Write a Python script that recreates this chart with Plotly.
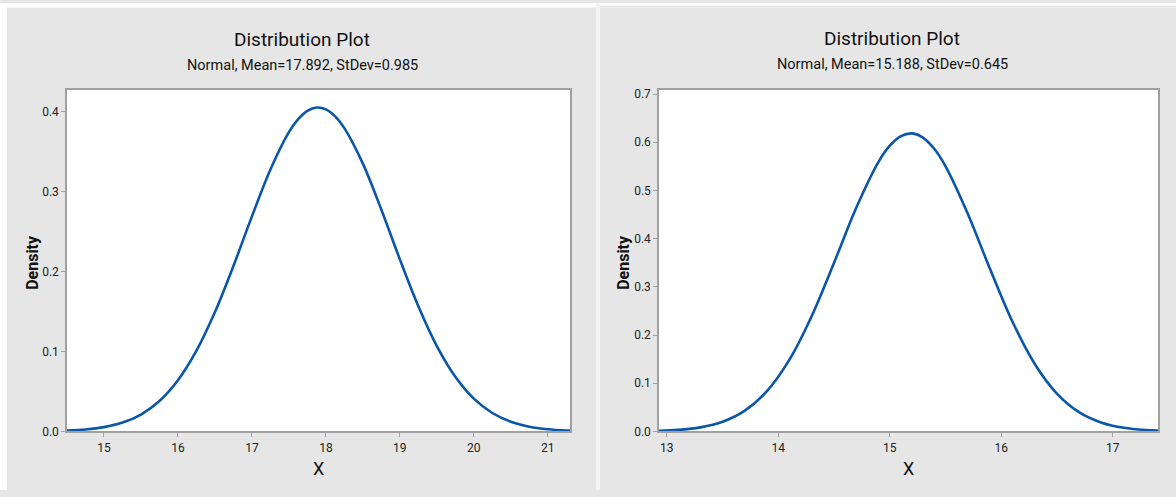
import plotly.graph_objects as go

# Left panel: Normal, Mean=17.892, StDev=0.985
x_left = [14.5, 14.75, 15.0, 15.25, 15.5, 15.75, 16.0, 16.25, 16.5, 16.75, 17.0, 17.25, 17.5, 17.625, 17.75,
          17.875, 18.0, 18.125, 18.25, 18.5, 18.75, 19.0, 19.25, 19.5, 19.75, 20.0, 20.25, 20.5, 20.75, 21.0,
          21.25, 21.5]
dens_left = [0.0011, 0.0025, 0.0054, 0.0111, 0.0212, 0.0381, 0.0640, 0.1009, 0.1492, 0.2068, 0.2688, 0.3275,
             0.3742, 0.3904, 0.4008, 0.4049, 0.4026, 0.3938, 0.3791, 0.3347, 0.2771, 0.2151, 0.1566, 0.1068,
             0.0684, 0.0410, 0.0231, 0.0122, 0.0060, 0.0028, 0.0012, 0.0005]

# Right panel: Normal, Mean=15.188, StDev=0.645
x_right = [12.9, 13.1, 13.3, 13.5, 13.7, 13.9, 14.1, 14.3, 14.5, 14.7, 14.9, 15.0, 15.1, 15.2, 15.3, 15.4,
           15.5, 15.7, 15.9, 16.1, 16.3, 16.5, 16.7, 16.9, 17.1, 17.3, 17.5]
dens_right = [0.0012, 0.0033, 0.0085, 0.0201, 0.0432, 0.0842, 0.1491, 0.2397, 0.3501, 0.4646, 0.5598,
              0.5928, 0.6128, 0.6184, 0.6092, 0.5860, 0.5502, 0.4513, 0.3363, 0.2276, 0.1400, 0.0781,
              0.0396, 0.0183, 0.0076, 0.0029, 0.0010]

left_xticks = [15, 16, 17, 18, 19, 20, 21]
left_yticks = [0.0, 0.1, 0.2, 0.3, 0.4]
right_xticks = [13, 14, 15, 16, 17]
right_yticks = [0.0, 0.1, 0.2, 0.3, 0.4, 0.5, 0.6, 0.7]

W, H = 1176, 497
FONT = "Roboto, Liberation Sans, sans-serif"
LINE = "#0a56a8"
GRAY_BG = "#e6e6e6"
AX = "#a0a0a0"


def px(x):
    return x / W


def py(y):
    # small vertical compensation for the capture pipeline
    y = (y - 1.6) / 0.982
    return 1 - y / H


fig = go.Figure()
fig.add_trace(go.Scatter(x=x_left, y=dens_left, mode="lines", line=dict(color=LINE, width=2.6, shape="spline"),
                         xaxis="x", yaxis="y", showlegend=False, hoverinfo="skip"))
fig.add_trace(go.Scatter(x=x_right, y=dens_right, mode="lines", line=dict(color=LINE, width=2.6, shape="spline"),
                         xaxis="x2", yaxis="y2", showlegend=False, hoverinfo="skip"))

axis_common = dict(showgrid=False, zeroline=False, showline=True, linecolor=AX, linewidth=1.5, mirror=True,
                   ticks="outside", ticklen=4, tickcolor=AX, tickfont=dict(family=FONT, size=12, color="#222"))

fig.update_layout(
    width=W, height=H, margin=dict(l=0, r=0, t=0, b=0),
    paper_bgcolor=GRAY_BG, plot_bgcolor="white",
    xaxis=dict(domain=[px(67), px(570)], range=[14.5, 21.3], tickvals=left_xticks, anchor="y", **axis_common),
    yaxis=dict(domain=[py(431), py(89)], range=[0, 0.4265], tickvals=left_yticks, tickformat=".1f",
               anchor="x", **axis_common),
    xaxis2=dict(domain=[px(659), px(1158)], range=[12.93, 17.405], tickvals=right_xticks, anchor="y2", **axis_common),
    yaxis2=dict(domain=[py(431), py(89)], range=[0, 0.708], tickvals=right_yticks, tickformat=".1f",
                anchor="x2", **axis_common),
    shapes=[
        dict(type="rect", xref="paper", yref="paper", x0=0, x1=1, y0=py(6), y1=1,
             fillcolor="white", line=dict(width=0), layer="below"),
        dict(type="rect", xref="paper", yref="paper", x0=px(596), x1=1, y0=py(4), y1=py(6),
             fillcolor=GRAY_BG, line=dict(width=0), layer="below"),
        dict(type="rect", xref="paper", yref="paper", x0=px(596), x1=px(600), y0=0, y1=1,
             fillcolor="#f4f4f4", line=dict(width=0), layer="below"),
        dict(type="rect", xref="paper", yref="paper", x0=0, x1=px(7), y0=0, y1=1,
             fillcolor="white", line=dict(width=0), layer="below"),
    ],
)


def ann(text, x, y, size, bold=False, angle=0):
    fig.add_annotation(text=f"<b>{text}</b>" if bold else text, xref="paper", yref="paper",
                       x=px(x), y=py(y), showarrow=False, textangle=angle,
                       font=dict(family=FONT, size=size, color="#111"), xanchor="center", yanchor="middle")


ann("Distribution Plot", 302, 38, 19)
ann("Normal, Mean=17.892, StDev=0.985", 302, 64, 14.5)
ann("Density", 33, 262, 16, bold=True, angle=-90)
ann("X", 318, 468, 18)
ann("Distribution Plot", 892, 37, 19)
ann("Normal, Mean=15.188, StDev=0.645", 892, 63, 14.5)
ann("Density", 624, 262, 16, bold=True, angle=-90)
ann("X", 908, 468, 18)

fig.write_html(
    "out.html",
    config={"displayModeBar": False},
    post_script=("document.body.style.margin='0';document.body.style.overflow='hidden';"
                 "document.documentElement.style.overflow='hidden';"),
)
